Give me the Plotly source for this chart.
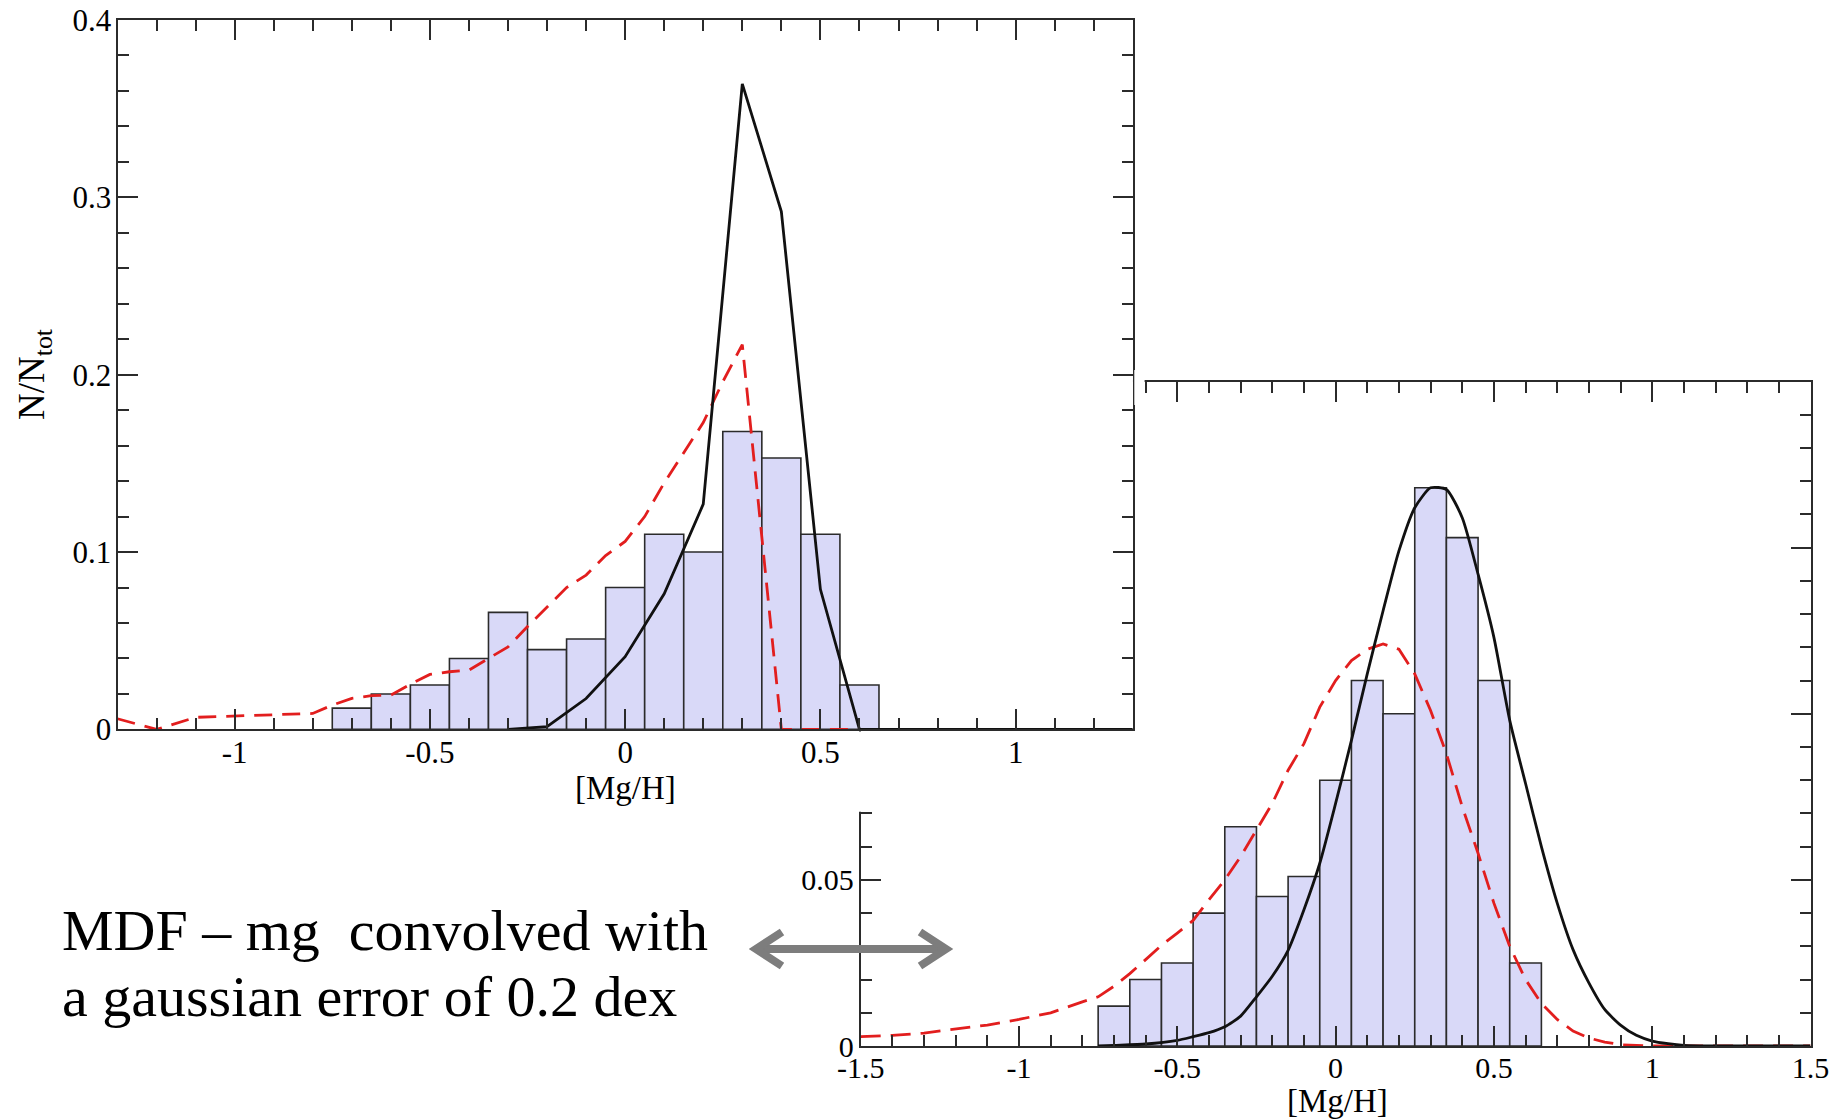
import plotly.graph_objects as go

W, H = 1847, 1120

# ---------------- data ----------------
# histogram of [Mg/H] (same sample in both panels), bins of width 0.1
bin_centers = [-0.7, -0.6, -0.5, -0.4, -0.3, -0.2, -0.1, 0.0, 0.1, 0.2, 0.3, 0.4, 0.5, 0.6]
bin_heights = [0.012, 0.020, 0.025, 0.040, 0.066, 0.045, 0.051, 0.080,
               0.110, 0.100, 0.168, 0.153, 0.110, 0.025]

# top panel: model MDFs (not convolved)
top_solid_x = [-0.3, -0.2, -0.1, 0.0, 0.1, 0.2, 0.3, 0.4, 0.5, 0.6, 1.3]
top_solid_y = [0.0, 0.0015, 0.0174, 0.041, 0.0765, 0.127, 0.364, 0.292, 0.079, 0.0, 0.0]

top_dash_x = [-1.3, -1.2, -1.1, -1.0, -0.9, -0.8, -0.75, -0.7, -0.65, -0.6, -0.55, -0.5,
              -0.45, -0.4, -0.35, -0.3, -0.25, -0.2, -0.15, -0.1, -0.05, 0.0, 0.05,
              0.1, 0.15, 0.2, 0.25, 0.3, 0.4, 1.3]
top_dash_y = [0.006, 0.0, 0.0068, 0.0075, 0.008, 0.009, 0.0137, 0.0175, 0.019, 0.0193,
              0.0255, 0.031, 0.0325, 0.0334, 0.040, 0.0465, 0.058, 0.069, 0.080, 0.087,
              0.098, 0.106, 0.120, 0.139, 0.156, 0.173, 0.196, 0.217, 0.0, 0.0]

# bottom panel: model MDFs convolved with a 0.2 dex gaussian error
bot_solid_x = [-0.75, -0.7, -0.6, -0.5, -0.45, -0.4, -0.35, -0.3, -0.25, -0.2, -0.15, -0.1,
               -0.05, 0.0, 0.05, 0.1, 0.15, 0.2, 0.25, 0.3, 0.35, 0.4, 0.45, 0.5, 0.55,
               0.6, 0.65, 0.7, 0.75, 0.8, 0.85, 0.9, 0.95, 1.0, 1.05, 1.1, 1.2, 1.5]
bot_solid_y = [0.0, 0.0002, 0.0006, 0.0017, 0.0028, 0.004, 0.0058, 0.009, 0.0148, 0.021,
               0.0288, 0.041, 0.055, 0.073, 0.092, 0.112, 0.131, 0.149, 0.162, 0.168,
               0.1675, 0.159, 0.142, 0.123, 0.098, 0.079, 0.060, 0.043, 0.029, 0.019,
               0.011, 0.0063, 0.0032, 0.0015, 0.0007, 0.0002, 0.0, 0.0]

bot_dash_x = [-1.5, -1.4, -1.3, -1.2, -1.1, -1.0, -0.9, -0.8, -0.75, -0.7, -0.65, -0.6,
              -0.55, -0.5, -0.45, -0.4, -0.35, -0.3, -0.25, -0.2, -0.15, -0.1, -0.05,
              0.0, 0.05, 0.1, 0.15, 0.2, 0.25, 0.3, 0.35, 0.4, 0.45, 0.5, 0.55, 0.6,
              0.65, 0.7, 0.75, 0.8, 0.85, 0.9, 1.0, 1.5]
bot_dash_y = [0.0028, 0.0032, 0.0039, 0.005, 0.0063, 0.008, 0.010, 0.0133, 0.0148, 0.018,
              0.0218, 0.026, 0.0303, 0.034, 0.0378, 0.044, 0.050, 0.057, 0.065, 0.073,
              0.083, 0.091, 0.102, 0.110, 0.116, 0.1194, 0.121, 0.1194, 0.112, 0.101,
              0.088, 0.072, 0.058, 0.043, 0.030, 0.020, 0.0128, 0.008, 0.0045, 0.0024,
              0.0012, 0.0004, 0.0, 0.0]

top_xticks = [-1, -0.5, 0, 0.5, 1]
top_xtext = ["-1", "-0.5", "0", "0.5", "1"]
top_yticks = [0, 0.1, 0.2, 0.3, 0.4]
top_ytext = ["0", "0.1", "0.2", "0.3", "0.4"]
bot_xticks = [-1.5, -1, -0.5, 0, 0.5, 1, 1.5]
bot_xtext = ["-1.5", "-1", "-0.5", "0", "0.5", "1", "1.5"]
bot_yticks = [0, 0.05, 0.1, 0.15, 0.2]
bot_ytext = ["0", "0.05", "0.1", "0.15", "0.2"]

# ---------------- style ----------------
SERIF = "Liberation Serif"
AX = "#2b2b2b"
BAR = "rgb(217,217,248)"
RED = "rgb(226,30,30)"
BLK = "#111111"
GREY = "rgb(125,125,125)"


def px(x):
    return x / W


def py(y):
    return 1 - y / H


def axis(rng, dom, anchor, tv, tt, minor_dt, fsize, standoff):
    return dict(
        range=rng, domain=dom, anchor=anchor, automargin=False,
        showline=True, linecolor=AX, linewidth=2, mirror="ticks",
        ticks="inside", ticklen=20, tickwidth=2, tickcolor=AX,
        tickmode="array", tickvals=tv, ticktext=tt, ticklabelstandoff=standoff,
        tickfont=dict(family=SERIF, size=fsize, color="black"),
        showgrid=False, zeroline=False, fixedrange=True,
        minor=dict(ticks="inside", ticklen=11, tickwidth=1.5, tickcolor=AX,
                   dtick=minor_dt, tick0=0, showgrid=False),
    )


fig = go.Figure()

# ----- bottom panel (convolved) : subplot xy -----
fig.add_trace(go.Bar(x=bin_centers, y=bin_heights, width=0.1,
                     marker=dict(color=BAR, line=dict(color=AX, width=1.6)),
                     xaxis="x", yaxis="y", showlegend=False))
fig.add_trace(go.Scatter(x=bot_dash_x, y=bot_dash_y, mode="lines",
                         line=dict(color=RED, width=2.8, dash="20px,10px"),
                         xaxis="x", yaxis="y", showlegend=False))
fig.add_trace(go.Scatter(x=bot_solid_x, y=bot_solid_y, mode="lines",
                         line=dict(color=BLK, width=2.8, shape="spline", smoothing=0.6),
                         xaxis="x", yaxis="y", showlegend=False))

# ----- top panel (raw) : subplot x2y2 -----
fig.add_trace(go.Bar(x=bin_centers, y=bin_heights, width=0.1,
                     marker=dict(color=BAR, line=dict(color=AX, width=1.6)),
                     xaxis="x2", yaxis="y2", showlegend=False))
fig.add_trace(go.Scatter(x=top_dash_x, y=top_dash_y, mode="lines",
                         line=dict(color=RED, width=2.8, dash="18px,10px"),
                         xaxis="x2", yaxis="y2", showlegend=False))
fig.add_trace(go.Scatter(x=top_solid_x, y=top_solid_y, mode="lines",
                         line=dict(color=BLK, width=2.8),
                         xaxis="x2", yaxis="y2", showlegend=False))

# geometry (pixels of the 1847x1120 page)
TOP_L, TOP_R, TOP_T, TOP_B = 117.5, 1132.8, 20.0, 729.4
BOT_L, BOT_R, BOT_T, BOT_B = 860.7, 1810.5, 381.5, 1046.0

fig.update_layout(
    width=W, height=H, autosize=False,
    margin=dict(l=0, r=0, t=0, b=0, pad=0, autoexpand=False),
    paper_bgcolor="white", plot_bgcolor="white",
    showlegend=False, barmode="overlay",
    font=dict(family=SERIF, color="black"),
    xaxis=axis([-1.5, 1.5], [px(BOT_L), px(BOT_R)], "y", bot_xticks, bot_xtext, 0.1, 30, -6),
    yaxis=axis([0, 0.2], [py(BOT_B), py(BOT_T)], "x", bot_yticks, bot_ytext, 0.01, 30, -1),
    xaxis2=axis([-1.3, 1.3], [px(TOP_L), px(TOP_R)], "y2", top_xticks, top_xtext, 0.1, 31, -6),
    yaxis2=axis([0, 0.4], [py(TOP_B), py(TOP_T)], "x2", top_yticks, top_ytext, 0.02, 31, -2),
)

# grey double-headed arrow geometry (page pixels)
AR_Y, AR_L, AR_R, AR_HEAD, AR_HALF = 949.0, 756.0, 946.0, 26.0, 17.0

shapes = [
    # opaque panel of the top plot hiding the bottom plot behind it
    dict(type="rect", xref="x2", yref="y2", x0=-2, x1=2, y0=-1, y1=1,
         fillcolor="white", line=dict(width=0), layer="below"),
    # hide bottom-plot frame pieces that lie under the top plot's margins
    dict(type="rect", xref="paper", yref="paper",
         x0=px(848), x1=px(880), y0=py(811.8), y1=py(731.5),
         fillcolor="white", line=dict(width=0), layer="above"),
    dict(type="rect", xref="paper", yref="paper",
         x0=px(1134.3), x1=px(1144.6), y0=py(405), y1=py(370),
         fillcolor="white", line=dict(width=0), layer="above"),
    # arrow shaft
    dict(type="line", xref="paper", yref="paper",
         x0=px(AR_L + 3), x1=px(AR_R - 3), y0=py(AR_Y), y1=py(AR_Y),
         line=dict(color=GREY, width=8), layer="above"),
    # arrow heads (open chevrons)
    dict(type="path", xref="paper", yref="paper", layer="above",
         path=(f"M {px(AR_L + AR_HEAD)},{py(AR_Y - AR_HALF)} L {px(AR_L)},{py(AR_Y)} "
               f"L {px(AR_L + AR_HEAD)},{py(AR_Y + AR_HALF)}"),
         line=dict(color=GREY, width=8)),
    dict(type="path", xref="paper", yref="paper", layer="above",
         path=(f"M {px(AR_R - AR_HEAD)},{py(AR_Y - AR_HALF)} L {px(AR_R)},{py(AR_Y)} "
               f"L {px(AR_R - AR_HEAD)},{py(AR_Y + AR_HALF)}"),
         line=dict(color=GREY, width=8)),
]
fig.update_layout(shapes=shapes)

ann = [
    dict(text="[Mg/H]", x=px(625.5), y=py(788), xref="paper", yref="paper",
         showarrow=False, xanchor="center", yanchor="middle",
         font=dict(family=SERIF, size=33, color="black")),
    dict(text="[Mg/H]", x=px(1337), y=py(1101), xref="paper", yref="paper",
         showarrow=False, xanchor="center", yanchor="middle",
         font=dict(family=SERIF, size=33, color="black")),
    dict(text="N/N<sub>tot</sub>", x=px(35), y=py(374), xref="paper", yref="paper",
         showarrow=False, xanchor="center", yanchor="middle", textangle=-90,
         font=dict(family=SERIF, size=37, color="black")),
    dict(text="MDF \u2013 mg\u00a0 convolved with", x=px(60), y=py(930),
         xref="paper", yref="paper", showarrow=False, xanchor="left", yanchor="middle",
         font=dict(family=SERIF, size=58, color="black")),
    dict(text="a gaussian error of 0.2 dex", x=px(60), y=py(997),
         xref="paper", yref="paper", showarrow=False, xanchor="left", yanchor="middle",
         font=dict(family=SERIF, size=58, color="black")),
]
fig.update_layout(annotations=ann)

fig.write_html("out.html", include_plotlyjs=True, config={"displayModeBar": False})
